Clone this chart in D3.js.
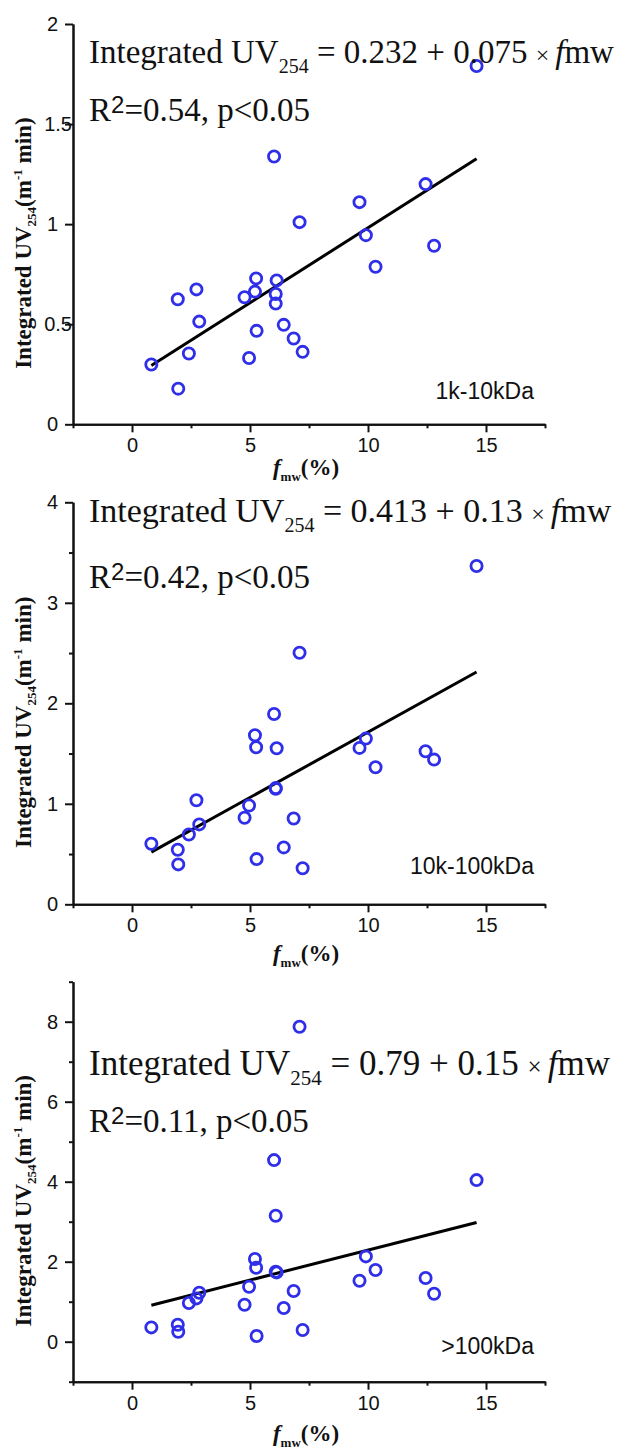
<!DOCTYPE html>
<html>
<head>
<meta charset="utf-8">
<script src="https://cdn.jsdelivr.net/npm/d3@7/dist/d3.min.js"></script>
<style>
body { margin: 0; background: #fff; }
</style>
</head>
<body>
<div id="chart"></div>
<script>

// f_mw (%) of each sample, same samples in the three panels
var fmw = [0.82, 1.96, 1.94, 2.41, 2.73, 2.85, 4.77, 4.96, 5.21, 5.26, 5.28, 6.02, 6.09,
           6.09, 6.13, 6.43, 6.85, 7.10, 7.23, 9.64, 9.91, 10.32, 12.44, 12.80, 14.6];

// integrated UV254 for each size class
var uv1k   = [0.299, 0.178, 0.625, 0.354, 0.674, 0.513, 0.635, 0.331, 0.663, 0.729, 0.467, 1.338, 0.651,
              0.603, 0.719, 0.497, 0.429, 1.010, 0.362, 1.110, 0.945, 0.787, 1.20, 0.892, 1.79];
var uv10k  = [0.603, 0.397, 0.543, 0.695, 1.036, 0.795, 0.861, 0.983, 1.682, 1.563, 0.450, 1.894, 1.156,
              1.149, 1.553, 0.566, 0.854, 2.503, 0.358, 1.556, 1.649, 1.364, 1.523, 1.440, 3.366];
var uv100k = [0.358, 0.25, 0.425, 0.967, 1.083, 1.225, 0.925, 1.375, 2.067, 1.85, 0.142, 4.54, 3.15,
              1.75, 1.733, 0.842, 1.267, 7.875, 0.292, 1.525, 2.133, 1.792, 1.592, 1.2, 4.04];

var sizeClasses = ["1k-10kDa", "10k-100kDa", ">100kDa"];
var intercepts = [0.232, 0.413, 0.79];
var slopes = [0.075, 0.13, 0.15];
var rSquared = ["0.54", "0.42", "0.11"];

var yDomains = [[0, 2], [0, 4], [-1, 9]];
var yTicks = [[0, 0.5, 1, 1.5, 2], [0, 1, 2, 3, 4], [0, 2, 4, 6, 8]];
var yMinorTicks = [[], [0.5, 1.5, 2.5, 3.5], [-1, 1, 3, 5, 7, 9]];
var xDomain = [-2.5, 17.5];
var xTicks = [0, 5, 10, 15];
var xMinorTicks = [-2.5, 2.5, 7.5, 12.5, 17.5];

var series = [uv1k, uv10k, uv100k];

// pixel layout of each panel: [top, bottom] of the y axis
var panelY = [[24, 424.3], [502.3, 904.3], [981.7, 1381.7]];
var titleGap = [51, 57, 59];
var eqSize = [33, 34, 35];
var left = 73, right = 545;

var svg = d3.select("#chart")
  .append("svg")
    .attr("width", 618)
    .attr("height", 1450);

var x = d3.scaleLinear().domain(xDomain).range([left, right]);
var plain = function(d) { return String(d); };

series.forEach(function(values, p) {

  var y = d3.scaleLinear()
    .domain(yDomains[p])
    .range([panelY[p][1], panelY[p][0]]);

  var g = svg.append("g");

  // x axis
  g.append("g")
    .attr("transform", "translate(0," + y.range()[0] + ")")
    .call(d3.axisBottom(x).tickValues(xTicks).tickFormat(plain).tickSize(8).tickSizeOuter(0).tickPadding(6));
  g.append("g")
    .attr("transform", "translate(0," + y.range()[0] + ")")
    .call(d3.axisBottom(x).tickValues(xMinorTicks).tickSize(4).tickSizeOuter(0).tickFormat(""));

  // y axis
  var ya = g.append("g")
    .attr("transform", "translate(" + left + ",0)")
    .call(d3.axisLeft(y).tickValues(yTicks[p]).tickFormat(plain).tickSize(8).tickSizeOuter(0).tickPadding(7));
  g.append("g")
    .attr("transform", "translate(" + left + ",0)")
    .call(d3.axisLeft(y).tickValues(yMinorTicks[p]).tickSize(4).tickSizeOuter(0).tickFormat(""));

  g.selectAll(".domain, .tick line")
    .attr("stroke", "#111")
    .attr("stroke-width", 2);
  g.selectAll(".tick text")
    .attr("fill", "#111")
    .style("font-family", "'Liberation Sans', Arial, sans-serif")
    .style("font-size", "20px");

  // half-step labels sit against the axis, as in the figure
  if (p == 0) {
    ya.selectAll(".tick text")
      .filter(function(d) { return d % 1 != 0; })
      .attr("x", -1);
  }

  // regression line over the sampled range
  var ext = d3.extent(fmw);
  g.append("path")
    .datum(ext)
    .attr("fill", "none")
    .attr("stroke", "#000")
    .attr("stroke-width", 3)
    .attr("d", d3.line()
      .x(function(d) { return x(d); })
      .y(function(d) { return y(intercepts[p] + slopes[p] * d); }));

  // the points
  g.append("g")
    .selectAll("circle")
    .data(values)
    .enter()
    .append("circle")
      .attr("cx", function(d, i) { return x(fmw[i]); })
      .attr("cy", function(d) { return y(d); })
      .attr("r", 5.6)
      .attr("fill", "none")
      .attr("stroke", "#2f2fea")
      .attr("stroke-width", 2.8);

  // equation
  var fs = eqSize[p];
  var eq = g.append("text")
    .attr("x", 89)
    .attr("y", [63, 522, 1075][p])
    .style("font-family", "'Liberation Serif', 'Times New Roman', serif")
    .style("font-size", fs + "px")
    .attr("fill", "#111");
  eq.append("tspan").text("Integrated UV");
  eq.append("tspan").attr("dy", 10).style("font-size", Math.round(fs * 0.6) + "px").text("254");
  eq.append("tspan").attr("dy", -10).text(" = " + intercepts[p] + " + " + slopes[p] + " ");
  eq.append("tspan").style("font-size", Math.round(fs * 0.72) + "px").text("\u00d7 ");
  eq.append("tspan").style("font-style", "italic").text("f");
  eq.append("tspan").text("mw");

  var r2 = g.append("text")
    .attr("x", 89)
    .attr("y", [121, 588, 1132][p])
    .style("font-family", "'Liberation Serif', 'Times New Roman', serif")
    .style("font-size", "33px")
    .attr("fill", "#111");
  r2.append("tspan").text("R");
  r2.append("tspan").attr("dy", -8).style("font-family", "'Liberation Sans', Arial, sans-serif")
    .style("font-size", "24px").text("2");
  r2.append("tspan").attr("dy", 8).text("=" + rSquared[p] + ", p<0.05");

  // size class label
  g.append("text")
    .attr("x", 534)
    .attr("y", y.range()[0] - [25, 30, 28][p])
    .attr("text-anchor", "end")
    .style("font-family", "'Liberation Sans', Arial, sans-serif")
    .style("font-size", "23px")
    .attr("fill", "#111")
    .text(sizeClasses[p]);

  // x title
  var xt = g.append("text")
    .attr("x", 306)
    .attr("y", y.range()[0] + titleGap[p])
    .attr("text-anchor", "middle")
    .style("font-family", "'Liberation Serif', 'Times New Roman', serif")
    .style("font-weight", "bold")
    .style("font-size", "23px")
    .attr("fill", "#111");
  xt.append("tspan").style("font-style", "italic").text("f");
  xt.append("tspan").attr("dy", 6).style("font-size", "13px").text("mw");
  xt.append("tspan").attr("dy", -6).text("(%)");

  // y title
  var cy = (panelY[p][0] + panelY[p][1]) / 2 + 19;
  var yt = g.append("text")
    .attr("transform", "translate(31," + cy + ") rotate(-90)")
    .attr("text-anchor", "middle")
    .style("font-family", "'Liberation Serif', 'Times New Roman', serif")
    .style("font-weight", "bold")
    .style("font-size", "23px")
    .attr("fill", "#111");
  yt.append("tspan").text("Integrated UV");
  yt.append("tspan").attr("dy", 5).style("font-size", "13px").text("254");
  yt.append("tspan").attr("dy", -5).text("(m");
  yt.append("tspan").attr("dy", -9).style("font-size", "13px").text("-1");
  yt.append("tspan").attr("dy", 9).text(" min)");
});

</script>
</body>
</html>
